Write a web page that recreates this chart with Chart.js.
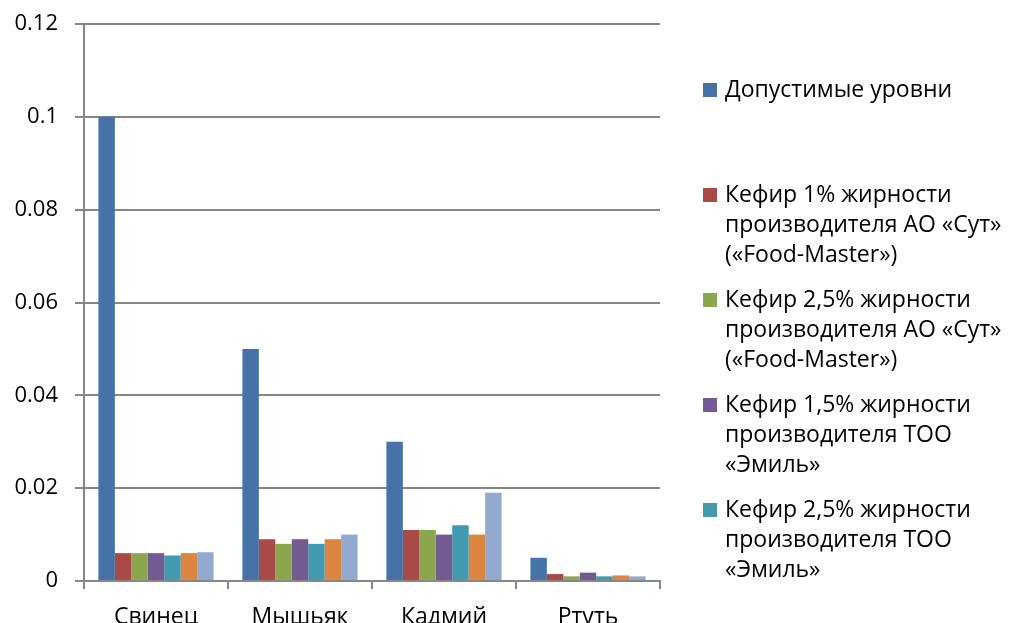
<!DOCTYPE html>
<html>
<head>
<meta charset="utf-8">
<script src="https://cdn.jsdelivr.net/npm/chart.js@4/dist/chart.umd.min.js"></script>
<style>
  html, body { margin: 0; padding: 0; background: #fff; }
  #wrap { width: 1010px; height: 623px; position: relative; }
</style>
</head>
<body>
<div id="wrap"><canvas id="chart" width="1010" height="623"></canvas></div>
<script>
// металлы
var categories = ["Свинец", "Мышьяк", "Кадмий", "Ртуть"];

var seriesNames = [
  "Допустимые уровни",
  "Кефир 1% жирности производителя АО «Сут» («Food-Master»)",
  "Кефир 2,5% жирности производителя АО «Сут» («Food-Master»)",
  "Кефир 1,5% жирности производителя ТОО «Эмиль»",
  "Кефир 2,5% жирности производителя ТОО «Эмиль»",
  "Кефир 6",
  "Кефир 7"
];

// строки подписей в легенде
var legendLines = [
  ["Допустимые уровни"],
  ["Кефир 1% жирности", "производителя АО «Сут»", "(«Food-Master»)"],
  ["Кефир 2,5% жирности", "производителя АО «Сут»", "(«Food-Master»)"],
  ["Кефир 1,5% жирности", "производителя ТОО", "«Эмиль»"],
  ["Кефир 2,5% жирности", "производителя ТОО", "«Эмиль»"],
  ["Кефир 6"],
  ["Кефир 7"]
];

var limits   = [0.1, 0.05, 0.03, 0.005];
var kefir1   = [0.006, 0.009, 0.011, 0.0015];
var kefir2   = [0.006, 0.008, 0.011, 0.001];
var kefir3   = [0.006, 0.009, 0.010, 0.0018];
var kefir4   = [0.0055, 0.008, 0.012, 0.001];
var kefir5   = [0.006, 0.009, 0.010, 0.0012];
var kefir6   = [0.0062, 0.010, 0.019, 0.001];

var yTicks = [0, 0.02, 0.04, 0.06, 0.08, 0.1, 0.12];

var colors = ["#4672a8", "#a94a47", "#8aa64f", "#725a92", "#4399b0", "#dc853e", "#94a9cf"];
var values = [limits, kefir1, kefir2, kefir3, kefir4, kefir5, kefir6];

var datasets = [];
for (var i = 0; i < values.length; i++) {
  datasets.push({
    label: seriesNames[i],
    data: values[i],
    backgroundColor: colors[i],
    borderWidth: 0,
    categoryPercentage: 0.8,
    barPercentage: 1.0
  });
}

// легенда справа, многострочная
var sideLegend = {
  id: 'sideLegend',
  afterDraw: function(chart) {
    var ctx = chart.ctx;
    var x0 = 703, y0 = 90, step = 105, lh = 30;
    ctx.save();
    ctx.beginPath();
    ctx.rect(680, 0, 330, 595);
    ctx.clip();
    ctx.font = '23px "Open Sans", sans-serif';
    ctx.textBaseline = 'middle';
    for (var i = 0; i < legendLines.length; i++) {
      var y = y0 + i * step;
      ctx.fillStyle = colors[i];
      ctx.fillRect(x0, y - 7, 14, 14);
      ctx.fillStyle = '#000';
      for (var j = 0; j < legendLines[i].length; j++) {
        ctx.fillText(legendLines[i][j], x0 + 22, y + j * lh);
      }
    }
    ctx.restore();
  }
};

new Chart(document.getElementById('chart'), {
  type: 'bar',
  data: { labels: categories, datasets: datasets },
  options: {
    responsive: false,
    animation: false,
    layout: { padding: { top: 24, right: 350, left: 0, bottom: 0 } },
    plugins: {
      legend: { display: false },
      tooltip: { enabled: false }
    },
    scales: {
      x: {
        grid: { offset: true, drawOnChartArea: false, color: '#868686', tickLength: 8, lineWidth: 2 },
        border: { color: '#868686', width: 2 },
        ticks: { color: '#000', font: { family: 'Open Sans', size: 23 }, padding: 15 },
        afterFit: function(scale) { scale.height = 42; }
      },
      y: {
        min: 0,
        max: 0.12,
        afterBuildTicks: function(scale) {
          scale.ticks = yTicks.map(function(v) { return { value: v }; });
        },
        grid: { color: '#868686', tickLength: 9, lineWidth: 2 },
        border: { color: '#868686', width: 2 },
        ticks: {
          color: '#000',
          font: { family: 'Open Sans', size: 22 },
          padding: 17,
          callback: function(v) { return String(parseFloat(v.toFixed(2))); }
        },
        afterFit: function(scale) {
          scale.width = 84;
          scale.paddingTop = 0;
          scale.paddingBottom = 0;
        }
      }
    }
  },
  plugins: [sideLegend]
});
</script>
</body>
</html>
